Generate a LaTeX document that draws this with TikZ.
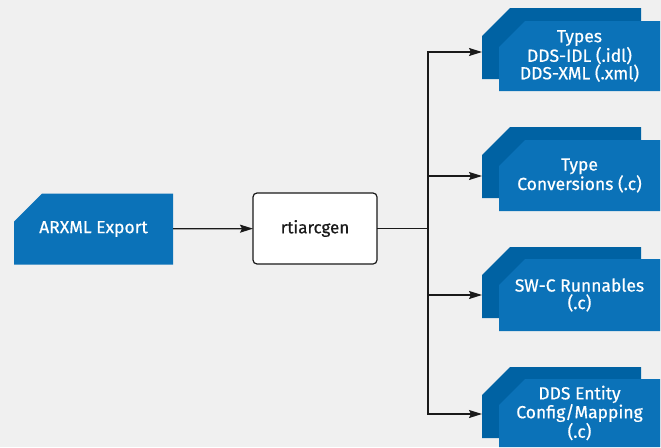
\documentclass[tikz,border=0pt]{standalone}
\usepackage{fontspec}
\setmainfont{Fira Sans}[BoldFont={Fira Sans}, BoldFeatures={FakeBold=0.6}]
\usetikzlibrary{arrows.meta,backgrounds}
\definecolor{bgc}{HTML}{F0F0F0}
\definecolor{fblue}{HTML}{0B72B8}
\definecolor{bblue}{HTML}{0062A3}
\definecolor{ink}{HTML}{1A1A1A}
\newcommand\chamferfill[3]{\fill[#2] ([yshift=-#3]#1.north west) -- ([xshift=#3]#1.north west) -- (#1.north east) -- (#1.south east) -- (#1.south west) -- cycle;}
\begin{document}
\begin{tikzpicture}[x=1pt,y=-1pt,
 blu/.style={inner sep=0pt, outer sep=0pt, align=center, text=white, font=\fontsize{17.5}{17.5}\selectfont\bfseries},
 genbox/.style={draw=ink, line width=1.2pt, fill=white, rounded corners=4pt, minimum width=124pt, minimum height=71pt, inner sep=0pt, outer sep=0pt, text=ink, font=\fontsize{17}{17.5}\selectfont\bfseries},
 arr/.style={draw=ink, line width=1.3pt, -{Stealth[length=13pt,width=8pt,inset=2pt]}},
 lin/.style={draw=ink, line width=1.3pt}
]
\useasboundingbox (0,0) rectangle (661,447);
\node[blu, minimum width=159pt, minimum height=71pt] (arxml) at (93.5,229) {ARXML Export};
\node[genbox] (gen) at (315,228.5) {rtiarcgen};
\node[blu, minimum width=159pt, minimum height=71pt] (t1b) at (561.5,43.5) {};
\node[blu, minimum width=161pt, minimum height=70pt] (t1) at (579.5,56) {Types\\DDS-IDL (.idl)\\DDS-XML (.xml)};
\node[blu, minimum width=159pt, minimum height=71pt] (t2b) at (561.5,162.5) {};
\node[blu, minimum width=161pt, minimum height=71pt] (t2) at (579.5,175.5) {Type\\Conversions (.c)};
\node[blu, minimum width=159pt, minimum height=71pt] (t3b) at (561.5,282.5) {};
\node[blu, minimum width=161pt, minimum height=72pt] (t3) at (579.5,295) {SW-C Runnables\\(.c)};
\node[blu, minimum width=159pt, minimum height=71pt] (t4b) at (561.5,402.5) {};
\node[blu, minimum width=161pt, minimum height=68pt] (t4) at (579.5,413) {DDS Entity\\Config/Mapping\\(.c)};
\begin{pgfonlayer}{background}
\fill[bgc] (0,0) rectangle (661,447);
\chamferfill{arxml}{fblue}{28pt}
\chamferfill{t1b}{bblue}{28pt}
\chamferfill{t1}{fblue}{26pt}
\chamferfill{t2b}{bblue}{28pt}
\chamferfill{t2}{fblue}{26pt}
\chamferfill{t3b}{bblue}{28pt}
\chamferfill{t3}{fblue}{26pt}
\chamferfill{t4b}{bblue}{28pt}
\chamferfill{t4}{fblue}{26pt}
\end{pgfonlayer}
\coordinate (split) at (428,228.5);
\draw[arr] (arxml) -- (gen);
\draw[lin] (gen.east) -- (split);
\draw[arr] (split) |- ([yshift=-8.5pt]t1b.west);
\draw[arr] (split) |- ([yshift=-13.5pt]t2b.west);
\draw[arr] (split) |- ([yshift=-12.5pt]t3b.west);
\draw[arr] (split) |- ([yshift=-11.5pt]t4b.west);
\end{tikzpicture}
\end{document}
